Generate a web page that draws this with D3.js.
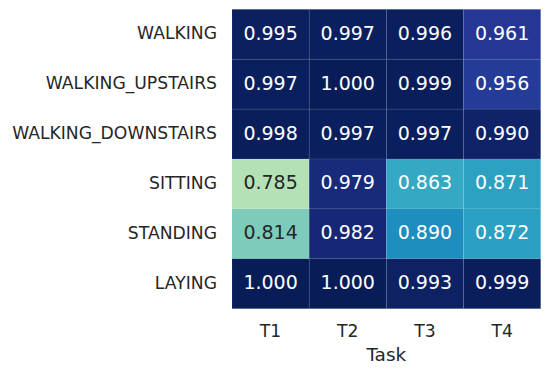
<!DOCTYPE html>
<html>
<head>
<meta charset="utf-8">
<script src="https://cdn.jsdelivr.net/npm/d3@7"></script>
<style>
  body { margin: 0; background: #fff; }
  svg { font-family: "DejaVu Sans", sans-serif; }
</style>
</head>
<body>
<svg id="chart"></svg>
<script>
const activities = ["WALKING", "WALKING_UPSTAIRS", "WALKING_DOWNSTAIRS", "SITTING", "STANDING", "LAYING"];
const tasks = ["T1", "T2", "T3", "T4"];
// one row per activity, one value per task
const scores = [
  [0.995, 0.997, 0.996, 0.961],
  [0.997, 1.000, 0.999, 0.956],
  [0.998, 0.997, 0.997, 0.990],
  [0.785, 0.979, 0.863, 0.871],
  [0.814, 0.982, 0.890, 0.872],
  [1.000, 1.000, 0.993, 0.999]
];
const xLabel = "Task";

// YlGnBu stops (matplotlib)
const ylgnbu = ["#ffffd9", "#edf8b1", "#c7e9b4", "#7fcdbb", "#41b6c4", "#1d91c0", "#225ea8", "#253494", "#081d58"];

const width = 550, height = 371;
const svg = d3.select("#chart").attr("width", width).attr("height", height);

const x = d3.scaleBand().domain(tasks).range([232, 540.7]);
const y = d3.scaleBand().domain(activities).range([9.3, 308.7]);

const vmin = 0.7, vmax = 1.0;
const color = d3.scaleLinear()
  .domain(ylgnbu.map((c, i) => vmin + (vmax - vmin) * i / (ylgnbu.length - 1)))
  .range(ylgnbu)
  .clamp(true);

let cells = [];
activities.forEach((a, i) => {
  tasks.forEach((t, j) => cells.push({ a: a, t: t, v: scores[i][j] }));
});

const g = svg.append("g");
g.selectAll("rect")
  .data(cells)
  .join("rect")
  .attr("x", d => x(d.t))
  .attr("y", d => y(d.a))
  .attr("width", x.bandwidth())
  .attr("height", y.bandwidth())
  .attr("fill", d => color(d.v))
  .attr("stroke", "rgba(255,255,255,0.12)")
  .attr("stroke-width", 0.6);

g.selectAll("text.val")
  .data(cells)
  .join("text")
  .attr("class", "val")
  .attr("x", d => x(d.t) + x.bandwidth() / 2)
  .attr("y", d => y(d.a) + y.bandwidth() / 2)
  .attr("dy", "0.29em")
  .attr("text-anchor", "middle")
  .style("font-size", "19px")
  .attr("fill", d => (d.v < 0.84 ? "#262626" : "#ffffff"))
  .text(d => d3.format(".3f")(d.v));

// row labels
svg.append("g")
  .selectAll("text")
  .data(activities)
  .join("text")
  .attr("x", 217)
  .attr("y", d => y(d) + y.bandwidth() / 2)
  .attr("dy", "0.29em")
  .attr("text-anchor", "end")
  .attr("fill", "#262626")
  .style("font-size", "17.2px")
  .text(d => d);

// column labels
svg.append("g")
  .selectAll("text")
  .data(tasks)
  .join("text")
  .attr("x", d => x(d) + x.bandwidth() / 2)
  .attr("y", 330.8)
  .attr("dy", "0.36em")
  .attr("text-anchor", "middle")
  .attr("fill", "#262626")
  .style("font-size", "17.2px")
  .text(d => d);

svg.append("text")
  .attr("x", (x.range()[0] + x.range()[1]) / 2)
  .attr("y", 354.5)
  .attr("dy", "0.36em")
  .attr("text-anchor", "middle")
  .attr("fill", "#262626")
  .style("font-size", "18.5px")
  .text(xLabel);
</script>
</body>
</html>
